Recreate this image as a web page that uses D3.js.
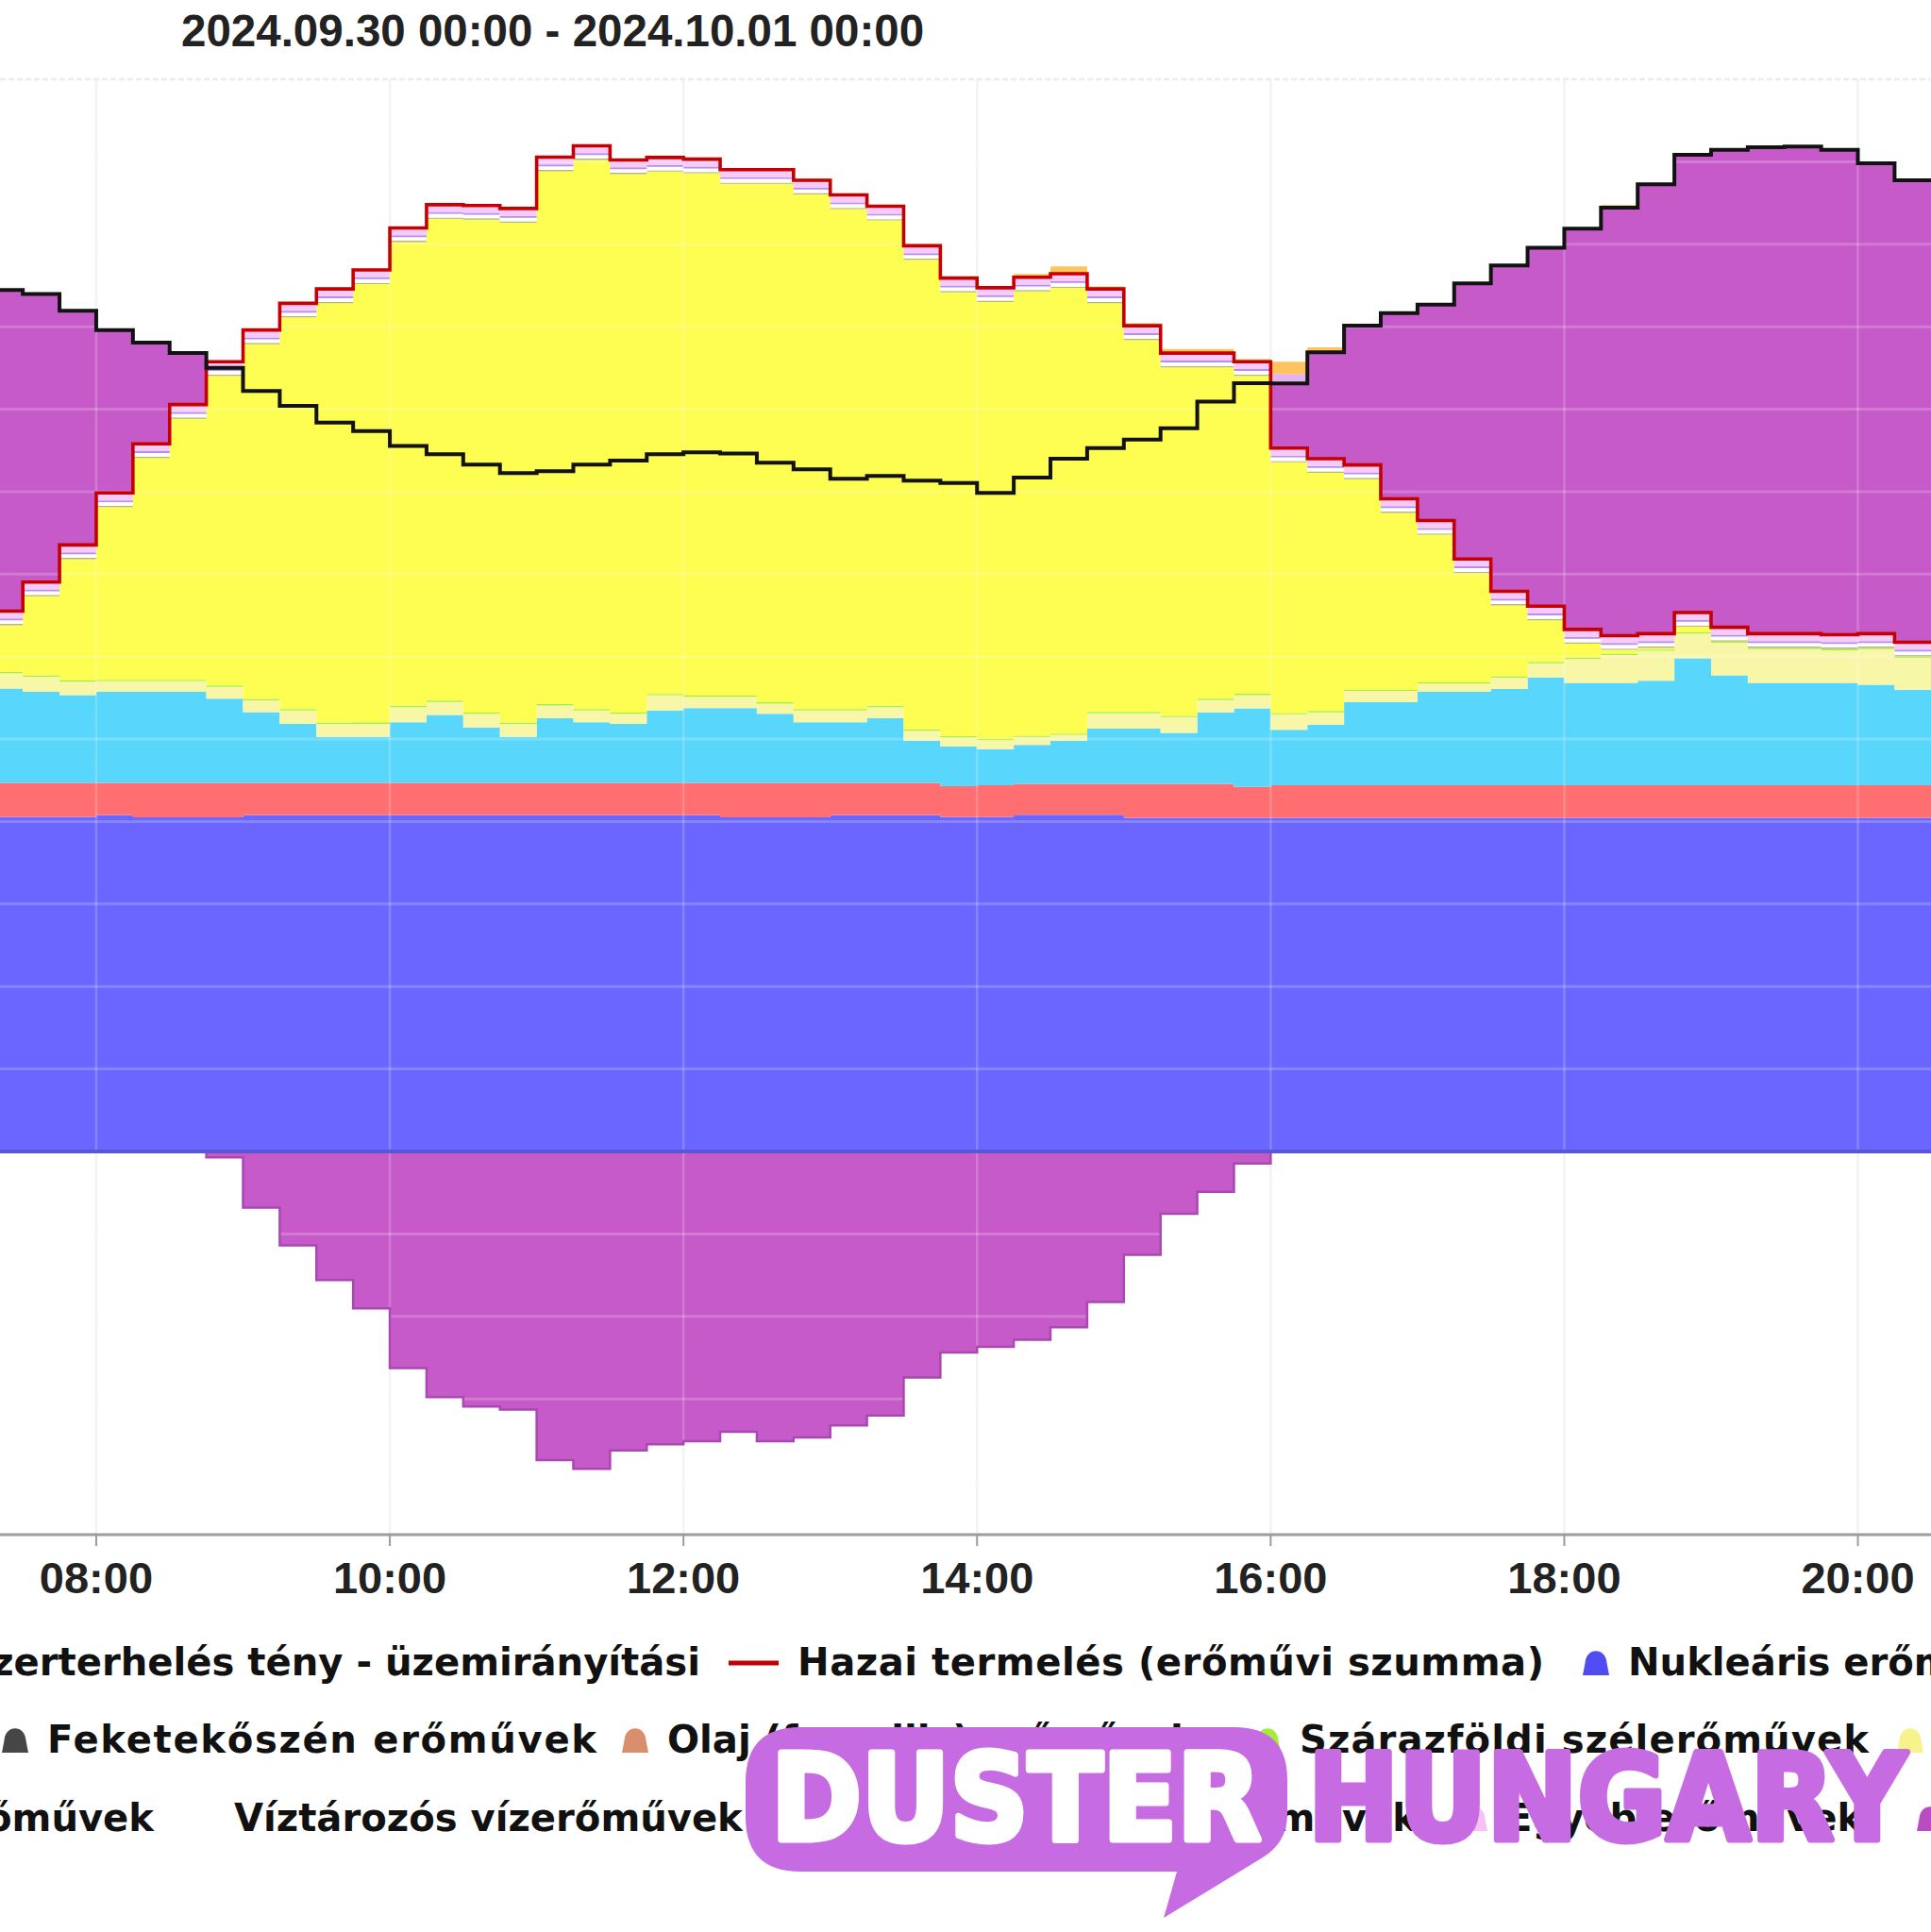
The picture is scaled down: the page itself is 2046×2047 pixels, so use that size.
<!DOCTYPE html>
<html><head><meta charset="utf-8">
<script src="https://cdn.jsdelivr.net/npm/d3@7/dist/d3.min.js"></script>
<style>html,body{margin:0;padding:0;background:#fff;overflow:hidden} svg{display:block}</style>
</head><body>
<svg id="chart" width="2046" height="2047" xmlns="http://www.w3.org/2000/svg"></svg>
<script>
// ---------------- DATA (MW, 15-minute slots, start of interval) ----------------
const slots = ["07:15","07:30","07:45","08:00","08:15","08:30","08:45","09:00","09:15","09:30","09:45",
"10:00","10:15","10:30","10:45","11:00","11:15","11:30","11:45","12:00","12:15","12:30","12:45",
"13:00","13:15","13:30","13:45","14:00","14:15","14:30","14:45","15:00","15:15","15:30","15:45",
"16:00","16:15","16:30","16:45","17:00","17:15","17:30","17:45","18:00","18:15","18:30","18:45",
"19:00","19:15","19:30","19:45","20:00","20:15"];
const endSlot = "20:30";

const nuclear = [2029,2029,2029,2040,2025,2025,2025,2040,2040,2040,2040,2040,2040,2040,2040,2040,2040,2040,2040,2040,
2025,2025,2025,2040,2040,2040,2029,2029,2041,2041,2041,2022,2022,2022,2022,2022,2022,2022,2022,2022,2022,2022,2022,
2022,2022,2022,2022,2022,2022,2022,2022,2022,2022];
const lignite = [205,205,205,194,209,209,209,194,194,194,194,194,194,194,194,194,194,194,194,194,209,209,209,194,194,194,
186,191,187,187,187,206,206,206,188,198,198,198,198,198,198,198,198,198,198,198,198,198,198,198,198,198,198];
const gas = [573,552,532,552,552,552,511,429,358,280,280,368,413,337,280,393,368,358,440,454,454,419,368,368,393,256,
240,219,236,261,335,335,310,434,477,336,368,504,504,567,567,584,653,621,621,634,770,666,621,621,621,609,579];
const cream = [92,92,82,66,66,66,72,72,82,78,78,92,78,82,78,77,72,61,92,68,68,62,72,72,67,61,55,54,49,37,94,94,95,75,80,
94,74,68,68,49,49,69,87,144,169,181,150,198,204,204,198,216,194];
const wind = [8,8,8,8,8,8,8,8,8,8,10,8,8,8,8,8,8,8,8,8,8,8,8,8,8,8,8,8,8,8,8,8,8,8,8,8,8,8,8,8,8,8,8,8,8,8,8,8,8,8,8,8,8];
const solar = [283,480,735,1046,1344,1582,1877,2151,2374,2543,2656,2811,2921,2988,3031,3230,3329,3264,3166,3166,3102,
3143,3120,3031,2942,2846,2691,2649,2693,2701,2478,2255,2113,2009,1927,1520,1444,1276,1071,895,662,429,252,86,23,10,33,
0,0,0,0,0,0];
const olive = [8,8,8,8,8,8,8,8,8,8,8,8,8,8,8,8,8,8,8,8,8,8,8,8,8,8,8,8,8,8,8,8,8,8,8,8,8,8,8,8,8,8,8,8,8,8,8,8,8,8,8,8,8];
const storage = [22,22,22,22,22,22,22,22,22,22,22,22,22,22,22,22,22,22,22,22,22,22,22,22,22,22,22,22,22,22,22,22,22,22,22,
22,22,22,22,22,22,22,22,22,22,22,22,22,22,22,22,22,22];
const lavender = [11,11,11,11,11,11,11,11,11,11,11,11,11,11,11,11,11,11,11,11,11,11,11,11,11,11,11,11,11,11,11,11,11,11,
11,11,11,11,11,11,11,11,11,11,11,11,11,11,11,11,11,11,11];
const other = [45,45,45,45,45,45,45,45,45,45,45,45,45,45,45,45,45,45,45,45,45,45,45,45,45,45,45,45,45,45,45,45,45,45,45,
45,45,45,45,45,45,45,45,45,45,45,45,45,45,45,45,45,45];
const importBalance = [1947,1746,1420,988,614,312,-35,-340,-569,-779,-951,-1313,-1489,-1546,-1565,-1871,-1924,-1813,
-1775,-1756,-1699,-1756,-1733,-1661,-1600,-1371,-1218,-1184,-1142,-1066,-913,-627,-378,-245,-73,392,645,844,1126,1309,
1670,1976,2173,2429,2595,2724,2775,2895,2949,2954,2940,2852,2801];
const topLav = [0,0,0,0,0,0,0,0,0,0,0,0,0,0,0,0,0,0,0,0,0,0,0,0,0,0,0,0,0,0,0,0,0,0,0,57,0,0,0,0,0,0,0,0,0,0,0,0,0,0,0,0,0];
const topOrange = [0,0,0,0,0,0,5,8,8,8,8,8,8,8,8,8,8,8,8,8,8,8,8,8,8,8,8,8,20,45,15,15,25,25,15,75,30,0,0,0,0,0,0,0,15,
0,0,0,0,0,0,0,0];
const load = [5223,5198,5097,4980,4904,4840,4750,4610,4520,4418,4367,4277,4227,4164,4112,4124,4164,4188,4227,4239,4232,
4175,4136,4078,4095,4067,4052,3992,4085,4200,4264,4315,4384,4546,4658,4656,4845,5006,5083,5134,5262,5372,5479,5594,
5722,5863,6042,6073,6088,6093,6073,5991,5888];

const tickLabels = ["08:00","10:00","12:00","14:00","16:00","18:00","20:00"];
const yGridValues = [-2000,-1500,-1000,-500,0,500,1000,1500,2000,2500,3000,3500,4000,4500,5000,5500,6000,6500];
const titleText = "2024.09.30 00:00 - 2024.10.01 00:00";

const legendRows = [
  [ {label:"Nettó rendszerterhelés tény - üzemirányítási", kind:"none", anchorEnd:742},
    {label:"Hazai termelés (erőművi szumma)", kind:"line", color:"#c00000", x:772, fit:791},
    {label:"Nukleáris erőművek", kind:"bell", color:"#4f4cf2", x:1677} ],
  [ {label:"Feketekőszén erőművek", kind:"bell", color:"#464646", x:2, fit:582},
    {label:"Olaj (fosszilis) erőművek", kind:"bell", color:"#d98e6c", x:659},
    {label:"Szárazföldi szélerőművek", kind:"bell", color:"#a3ee3a", x:1329, fit:603},
    {label:"Naperőművek", kind:"bell", color:"#f8f28a", x:2010} ],
  [ {label:"Folyóvízi erőművek", kind:"none", anchorEnd:163},
    {label:"Víztározós vízerőművek", kind:"bell", color:"#ffffff", x:200},
    {label:"Hulladékégető erőművek", kind:"none", anchorEnd:1502},
    {label:"Egyéb erőművek", kind:"bell", color:"#f5c2f2", x:1548},
    {label:"Import szaldó", kind:"bell", color:"#b84cc0", x:2031} ]
];
const legendBaselines = [1775, 1857, 1940];

// ---------------- CHART ----------------
const svg = d3.select("#chart");
const parse = s => { const [h,m] = s.split(":").map(Number); return new Date(Date.UTC(2024,8,30,h,m)); };
const times = slots.map(parse);
const endTime = parse(endSlot);
const plotTop = 84, plotBottom = 1626;
const x = d3.scaleUtc().domain([times[0], endTime]).range([-14.7, 2046.3]);
const y = d3.scaleLinear().domain([-2323, 6500]).range([plotBottom, plotTop]);

const keys = ["nuclear","lignite","gas","cream","wind","solar","olive","storage","lavender","other","importBalance","topLav","topOrange"];
const src = {nuclear,lignite,gas,cream,wind,solar,olive,storage,lavender,other,importBalance,topLav,topOrange};
const colors = {nuclear:"#6a66ff", lignite:"#ff6e70", gas:"#58d6fb", cream:"#f8f7a8", wind:"#a6f03c",
  solar:"#fdfd52", olive:"#b9b77c", storage:"#ffffff", lavender:"#b48ef0", other:"#f9caf8",
  importBalance:"#c65ac8", topLav:"#e3b4ee", topOrange:"#ffc45e"};

const rows = times.map((t,i) => { const r = {t, load: load[i]}; keys.forEach(k => r[k] = src[k][i]); return r; });
const last = Object.assign({}, rows[rows.length-1], {t: endTime});
rows.push(last);

const series = d3.stack().keys(keys).offset(d3.stackOffsetDiverging)(rows);

svg.append("defs").append("clipPath").attr("id","plotclip")
  .append("rect").attr("x",0).attr("y",plotTop).attr("width",2046).attr("height",plotBottom-plotTop);

const tickTimes = tickLabels.map(parse);

// under-grid (visible on white)
const under = svg.append("g");
under.selectAll("line.v").data(tickTimes).join("line")
  .attr("x1",d=>x(d)).attr("x2",d=>x(d)).attr("y1",plotTop).attr("y2",plotBottom)
  .attr("stroke","#f0f0f0").attr("stroke-width",2.5);
under.append("line").attr("x1",0).attr("x2",2046).attr("y1",y(6500)).attr("y2",y(6500))
  .attr("stroke","#e9e9e9").attr("stroke-width",2.5).attr("stroke-dasharray","6 3");

const plotG = svg.append("g").attr("clip-path","url(#plotclip)");
const area = d3.area().curve(d3.curveStepAfter)
  .x((d,i)=>x(rows[i].t)).y0(d=>y(d[0])).y1(d=>y(d[1]));
plotG.selectAll("path.area").data(series).join("path")
  .attr("class","area").attr("d",area).attr("fill",d=>colors[d.key]);

// over-grid (lighter lines over the areas)
const over = plotG.append("g");
over.selectAll("line.h").data(yGridValues).join("line")
  .attr("x1",0).attr("x2",2046).attr("y1",d=>y(d)).attr("y2",d=>y(d))
  .attr("stroke","rgba(255,255,255,0.2)").attr("stroke-width",3);
over.selectAll("line.v").data(tickTimes).join("line")
  .attr("x1",d=>x(d)).attr("x2",d=>x(d)).attr("y1",plotTop).attr("y2",plotBottom)
  .attr("stroke","rgba(255,255,255,0.2)").attr("stroke-width",2.5);

// import outline on the negative side
const impSeries = series.find(s=>s.key==="importBalance");
plotG.append("path")
  .attr("d", d3.line().curve(d3.curveStepAfter).x((d,i)=>x(rows[i].t))
    .y((d,i)=> rows[i].importBalance < 0 ? y(d[0]) : y(0))(impSeries))
  .attr("fill","none").attr("stroke","#a947b3").attr("stroke-width",2.5);

// zero line
plotG.append("line").attr("x1",0).attr("x2",2046).attr("y1",y(0)).attr("y2",y(0))
  .attr("stroke","#5a56d6").attr("stroke-width",4);

// domestic generation (red) = top of generation stack
const genSeries = series.find(s=>s.key==="other");
plotG.append("path")
  .attr("d", d3.line().curve(d3.curveStepAfter).x((d,i)=>x(rows[i].t)).y(d=>y(d[1]))(genSeries))
  .attr("fill","none").attr("stroke","#c40000").attr("stroke-width",3.6).attr("stroke-linejoin","miter");

// system load (black)
plotG.append("path")
  .attr("d", d3.line().curve(d3.curveStepAfter).x(d=>x(d.t)).y(d=>y(d.load))(rows))
  .attr("fill","none").attr("stroke","#121212").attr("stroke-width",4).attr("stroke-linejoin","miter");

// x axis
const axisG = svg.append("g");
axisG.append("line").attr("x1",0).attr("x2",2046).attr("y1",plotBottom).attr("y2",plotBottom)
  .attr("stroke","#9c9c9c").attr("stroke-width",3);
axisG.selectAll("line.tick").data(tickTimes).join("line")
  .attr("x1",d=>x(d)).attr("x2",d=>x(d)).attr("y1",plotBottom).attr("y2",plotBottom+12)
  .attr("stroke","#9c9c9c").attr("stroke-width",2);
const fmt = d3.utcFormat("%H:%M");
axisG.selectAll("text.tl").data(tickTimes).join("text")
  .attr("x",d=>x(d)).attr("y",1688).attr("text-anchor","middle")
  .attr("font-family","'Liberation Sans', Arial, sans-serif").attr("font-weight","bold")
  .attr("font-size",47).attr("fill","#222").text(d=>fmt(d));

// title
svg.append("text").attr("x",192).attr("y",49)
  .attr("font-family","'Liberation Sans', Arial, sans-serif").attr("font-weight","bold")
  .attr("font-size",47.5).attr("fill","#222").text(titleText);

// legend
const legG = svg.append("g");
const lfont = "'DejaVu Sans', Verdana, sans-serif";
const probe = legG.append("text").attr("font-family",lfont).attr("font-weight","bold").attr("font-size",40)
  .text("Hazai termelés (erőművi szumma)");
const probeLen = probe.node().getComputedTextLength();
probe.remove();
const lsize = 40 * 775 / probeLen;

function bell(g, x0, base, color){
  const w = 28, h = 27;
  g.append("path").attr("d",
    `M${x0},${base} L${x0+2.5},${base-13} C${x0+3.5},${base-h-3} ${x0+w-3.5},${base-h-3} ${x0+w-2.5},${base-13} L${x0+w},${base} Z`)
    .attr("fill",color);
}
function legText(xp, base, label, anchor, fit){
  const t = legG.append("text").attr("x", xp).attr("y", base).attr("font-family",lfont)
    .attr("font-weight","bold").attr("font-size",lsize).attr("fill","#111").attr("text-anchor",anchor).text(label);
  if(fit) t.attr("textLength",fit).attr("lengthAdjust","spacing");
}
legendRows.forEach((row,ri)=>{
  const base = legendBaselines[ri];
  row.forEach(it=>{
    if(it.kind==="bell"){
      bell(legG, it.x, base, it.color);
      legText(it.x+48, base, it.label, "start", it.fit);
    } else if(it.kind==="line"){
      legG.append("line").attr("x1",it.x).attr("x2",it.x+53).attr("y1",base-13).attr("y2",base-13)
        .attr("stroke",it.color).attr("stroke-width",5);
      legText(it.x+73, base, it.label, "start", it.fit);
    } else {
      legText(it.anchorEnd, base, it.label, "end", it.fit);
    }
  });
});

// watermark
const wm = svg.append("g");
const wmColor = "#c76be3";
wm.append("path").attr("d",
  "M848,1830 L1308,1830 Q1364,1830 1364,1886 L1364,1922 Q1364,1952 1338,1968 L1233,2032 L1247,1983 L848,1983 Q790,1983 790,1925 L790,1888 Q790,1830 848,1830 Z")
  .attr("fill",wmColor);
const wfont = "'DejaVu Sans','DejaVu Sans Condensed',sans-serif";
wm.append("text").attr("x",817).attr("y",1949).attr("font-family",wfont).attr("font-weight","bold")
  .attr("font-size",126).attr("fill","#ffffff").attr("stroke","#ffffff").attr("stroke-width",7)
  .attr("stroke-linejoin","round").attr("textLength",519).attr("lengthAdjust","spacingAndGlyphs").text("DUSTER");
wm.append("text").attr("x",1386).attr("y",1949).attr("font-family",wfont).attr("font-weight","bold")
  .attr("font-size",126).attr("fill",wmColor).attr("stroke",wmColor).attr("stroke-width",7)
  .attr("stroke-linejoin","round").attr("textLength",634).attr("lengthAdjust","spacingAndGlyphs").text("HUNGARY");
</script>
</body></html>
